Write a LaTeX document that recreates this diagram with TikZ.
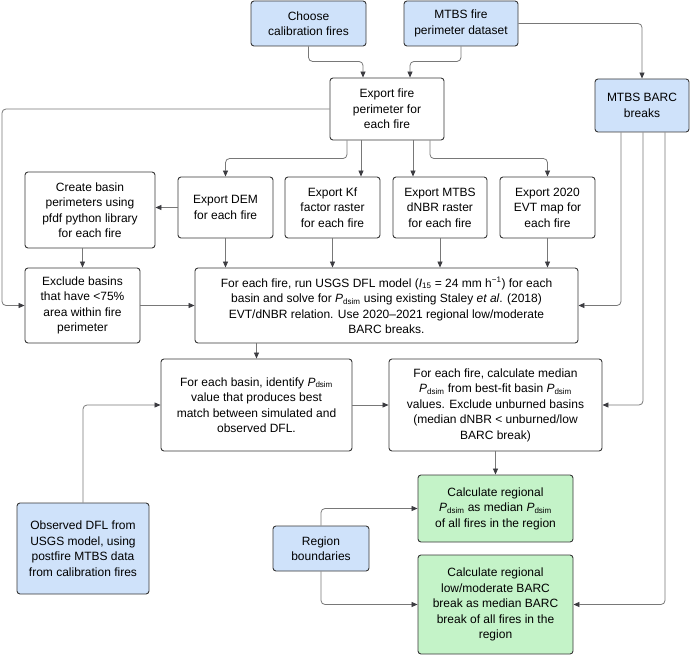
\documentclass[tikz,border=0pt]{standalone}
\usepackage{fontspec}
\setmainfont{Liberation Sans}
\usetikzlibrary{arrows.meta}
\definecolor{bluef}{RGB}{207,226,250}
\definecolor{greenf}{RGB}{196,243,200}
\definecolor{edgec}{RGB}{55,55,55}
\definecolor{linec}{RGB}{120,120,120}
\definecolor{tipc}{RGB}{60,60,65}
\newcommand{\Pdsim}{\textit{P}\textsubscript{dsim}}
\begin{document}
\begin{tikzpicture}[x=1pt,y=-1pt,
  box/.style={draw=edgec, line width=0.9pt, rounded corners=3pt, align=center, inner sep=0pt,
    font=\fontsize{12}{15.5}\selectfont, fill=white},
  bluebox/.style={box, fill=bluef},
  greenbox/.style={box, fill=greenf},
  wh/.style 2 args={minimum width=#1pt, minimum height=#2pt},
  arr/.style={draw=linec, line width=0.8pt, rounded corners=4pt,
    -{Triangle[length=6pt,width=5pt,color=tipc]}}
]
\useasboundingbox (0,0) rectangle (691,655);

% nodes
\node[bluebox, wh={115}{45}] (choose) at (308.5,23.5) {Choose\\calibration fires};
\node[bluebox, wh={114}{45}] (mtbs) at (461,23.5) {MTBS fire\\perimeter dataset};
\node[box, wh={114}{62}] (exp) at (387,109) {Export fire\\perimeter for\\each fire};
\node[bluebox, wh={94}{53}] (barc) at (642,105.5) {MTBS BARC\\breaks};
\node[box, wh={130}{76}] (create) at (90,210) {Create basin\\perimeters using\\pfdf python library\\for each fire};
\node[box, wh={95}{61}] (dem) at (225.5,207.5) {Export DEM\\for each fire};
\node[box, wh={95}{61}] (kf) at (332.5,207.5) {Export Kf\\factor raster\\for each fire};
\node[box, wh={94}{61}] (dnbr) at (440,207.5) {Export MTBS\\dNBR raster\\for each fire};
\node[box, wh={95}{61}] (evt) at (547.5,207.5) {Export 2020\\EVT map for\\each fire};
\node[box, wh={115}{75}] (excl) at (82.5,305.5) {Exclude basins\\that have <75\%\\area within fire\\perimeter};
\node[box, wh={383}{75}] (run) at (386.5,305.5) {For each fire, run USGS DFL model (\textit{I}\textsubscript{15} = 24 mm h\textsuperscript{−1}) for each\\basin and solve for \Pdsim{} using existing Staley \textit{et al}. (2018)\\EVT/dNBR relation. Use 2020–2021 regional low/moderate\\BARC breaks.};
\node[box, wh={191}{92}] (ident) at (256.5,405) {For each basin, identify \Pdsim\\value that produces best\\match between simulated and\\observed DFL.};
\node[box, wh={213}{92}] (med) at (495.5,405) {For each fire, calculate median\\\Pdsim{} from best-fit basin \Pdsim\\values. Exclude unburned basins\\(median dNBR < unburned/low\\BARC break)};
\node[greenbox, wh={155}{67}] (g1) at (495.5,508.5) {Calculate regional\\\Pdsim{} as median \Pdsim\\of all fires in the region};
\node[greenbox, wh={155}{99}] (g2) at (495.5,604.5) {Calculate regional\\low/moderate BARC\\break as median BARC\\break of all fires in the\\region};
\node[bluebox, wh={96}{45}] (reg) at (321,548.5) {Region\\boundaries};
\node[bluebox, wh={132}{91}] (obs) at (83,548.5) {Observed DFL from\\USGS model, using\\postfire MTBS data\\from calibration fires};

% helper coordinates
\coordinate (lft) at (2,0);
\coordinate (bx1) at (621,0);
\coordinate (bx2) at (643,0);
\coordinate (bx3) at (665,0);

% connectors
\draw[arr] (choose.south) -- ++(0,15) -| ([xshift=-24pt]exp.north);
\draw[arr] (mtbs.south) -- ++(0,15) -| ([xshift=23pt]exp.north);
\draw[arr] (mtbs.east) -| (barc.north);
\draw[arr] (exp.west) -- (exp.west -| lft) |- (excl.west);
\draw[arr] ([xshift=-40pt]exp.south) |- ([yshift=18pt]dem.north) -- (dem.north);
\draw[arr] ([xshift=-26pt]exp.south) -- ([xshift=-26pt]exp.south |- kf.north);
\draw[arr] ([xshift=26pt]exp.south) -- ([xshift=26pt]exp.south |- dnbr.north);
\draw[arr] ([xshift=43pt]exp.south) |- ([yshift=18pt]evt.north) -- (evt.north);
\draw[arr] (dem.west) -- (dem.west -| create.east);
\draw[arr] (create.south -| excl.north) -- (excl.north);
\draw[arr] (dem.south) -- (dem.south |- run.north);
\draw[arr] (kf.south) -- (kf.south |- run.north);
\draw[arr] (dnbr.south) -- (dnbr.south |- run.north);
\draw[arr] (evt.south) -- (evt.south |- run.north);
\draw[arr] (excl.east) -- (excl.east -| run.west);
\draw[arr] (barc.south -| bx1) |- (run.east);
\draw[arr] (barc.south -| bx2) |- (med.east);
\draw[arr] (barc.south -| bx3) |- (g2.east);
\draw[arr] (run.south -| ident.north) -- (ident.north);
\draw[arr] (ident.east) -- (med.west);
\draw[arr] (med.south -| g1.north) -- (g1.north);
\draw[arr] (obs.north) |- (ident.west);
\draw[arr] (reg.north) |- (g1.west);
\draw[arr] (reg.south) |- (g2.west);
\end{tikzpicture}
\end{document}
